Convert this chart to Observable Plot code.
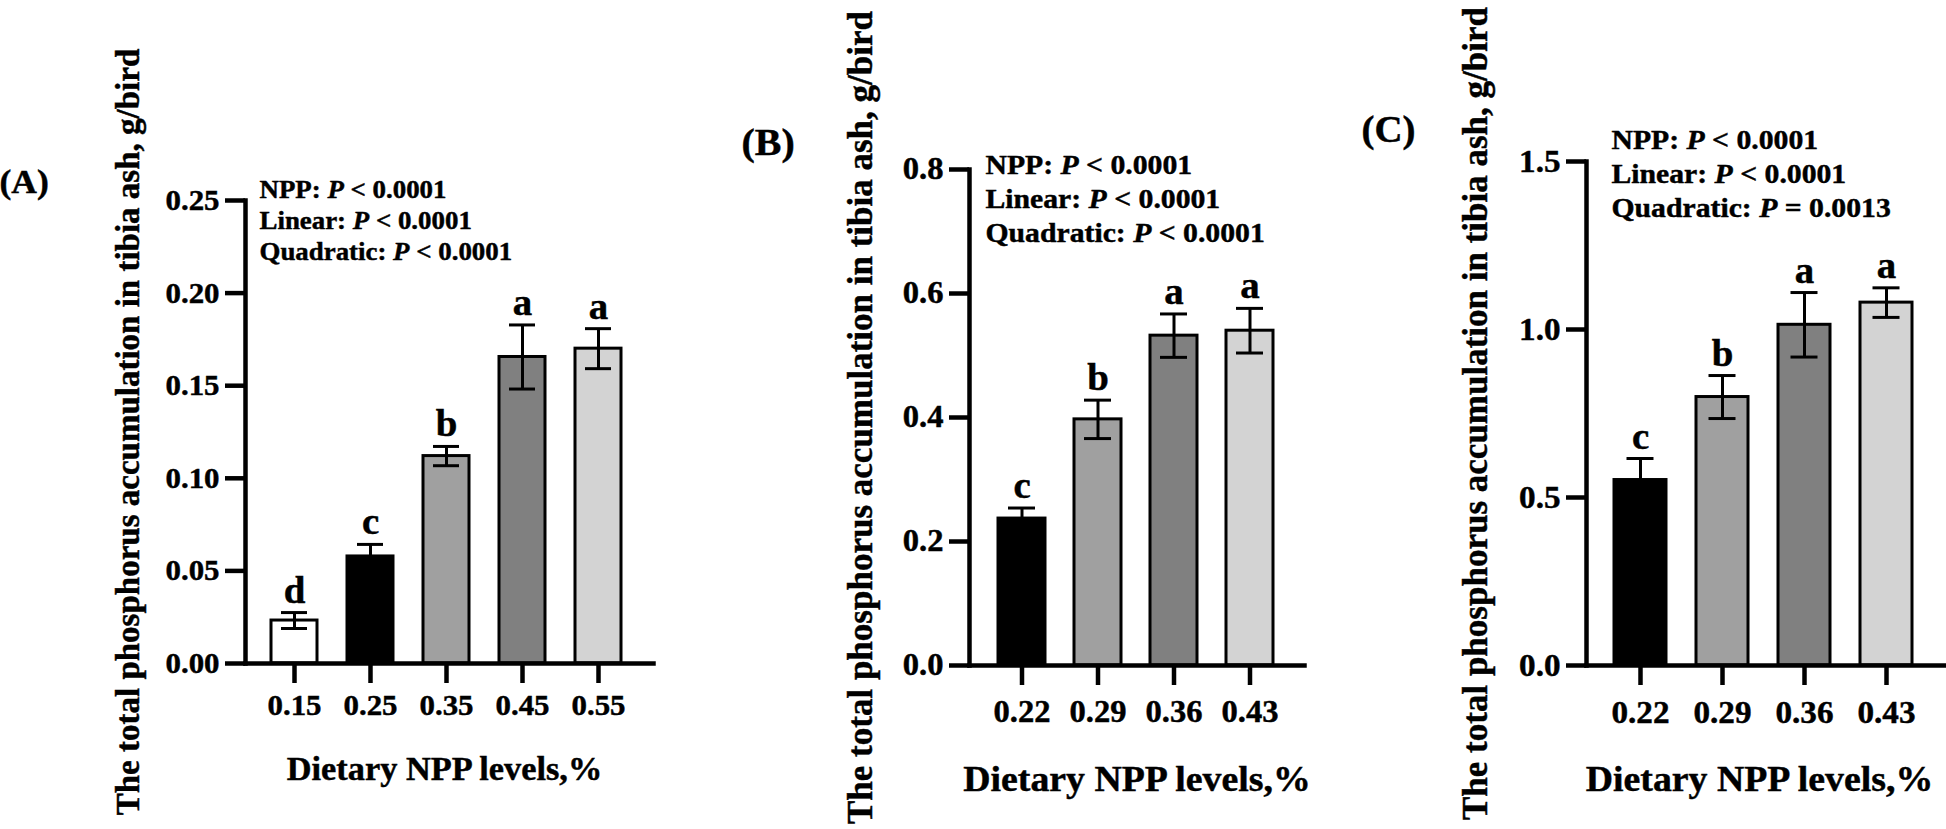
<!DOCTYPE html>
<html><head><meta charset="utf-8">
<script src="https://cdn.jsdelivr.net/npm/d3@7"></script>
<script src="https://cdn.jsdelivr.net/npm/@observablehq/plot@0.6"></script>
<style>
html,body{margin:0;padding:0;background:#fff;}
#root{position:relative;width:1946px;height:829px;overflow:hidden;background:#fff;}
.panel{position:absolute;top:0;}
#root svg text{stroke:#000;stroke-width:0.45px;}
</style></head><body><div id="root"></div>
<script>
// ---- Data ----
const levelsA = ["0.15", "0.25", "0.35", "0.45", "0.55"];
const meanA = [0.0232, 0.0578, 0.1120, 0.1655, 0.1700];
const sdA = [0.0043, 0.0065, 0.0052, 0.0173, 0.0108];
const lettersA = ["d", "c", "b", "a", "a"];
const fillsA = ["#ffffff", "#000000", "#a0a0a0", "#808080", "#d3d3d3"];
const yTicksA = [0, 0.05, 0.10, 0.15, 0.20, 0.25];

const levelsB = ["0.22", "0.29", "0.36", "0.43"];
const meanB = [0.237, 0.397, 0.532, 0.540];
const sdB = [0.017, 0.031, 0.035, 0.036];
const lettersB = ["c", "b", "a", "a"];
const fillsB = ["#000000", "#a0a0a0", "#808080", "#d3d3d3"];
const yTicksB = [0, 0.2, 0.4, 0.6, 0.8];

const levelsC = ["0.22", "0.29", "0.36", "0.43"];
const meanC = [0.552, 0.799, 1.014, 1.080];
const sdC = [0.064, 0.064, 0.096, 0.044];
const lettersC = ["c", "b", "a", "a"];
const fillsC = ["#000000", "#a0a0a0", "#808080", "#d3d3d3"];
const yTicksC = [0, 0.5, 1.0, 1.5];

const yTitle = "The total phosphorus accumulation in tibia ash, g/bird";
const xTitle = "Dietary NPP levels,%";
const notesA = ["NPP: P < 0.0001", "Linear: P < 0.0001", "Quadratic: P < 0.0001"];
const notesB = ["NPP: P < 0.0001", "Linear: P < 0.0001", "Quadratic: P < 0.0001"];
const notesC = ["NPP: P < 0.0001", "Linear: P < 0.0001", "Quadratic: P = 0.0013"];

const FONT = '"Liberation Serif","Times New Roman",serif';
const STRETCH = 1.05;
const SVGNS = "http://www.w3.org/2000/svg";
const root = document.getElementById("root");

function panel(cfg) {
  const data = cfg.levels.map((lv, i) => ({
    level: lv, mean: cfg.mean[i], lo: cfg.mean[i] - cfg.sd[i], hi: cfg.mean[i] + cfg.sd[i], letter: cfg.letters[i]
  }));
  const svg = Plot.plot({
    width: cfg.width, height: 829,
    marginLeft: cfg.ml, marginRight: cfg.mr, marginTop: cfg.mt, marginBottom: cfg.mb,
    x: {domain: cfg.levels, paddingInner: cfg.pi, paddingOuter: cfg.po, align: cfg.align},
    y: {domain: [cfg.yTicks[0], cfg.yTicks[cfg.yTicks.length - 1]]},
    color: {domain: cfg.levels, range: cfg.fills},
    style: {fontFamily: FONT, fontWeight: "bold", background: "transparent", overflow: "visible", color: "black"},
    marks: [
      Plot.barY(data, {x: "level", y: "mean", fill: "level", stroke: "black", strokeWidth: 3}),
      Plot.ruleX(data, {x: "level", y1: "lo", y2: "hi", stroke: "black", strokeWidth: 3}),
      Plot.tickY(data, {x: "level", y: "hi", stroke: "black", strokeWidth: 3, insetLeft: cfg.cap, insetRight: cfg.cap}),
      Plot.tickY(data, {x: "level", y: "lo", stroke: "black", strokeWidth: 3, insetLeft: cfg.cap, insetRight: cfg.cap}),
      Plot.text(data, {x: "level", y: "hi", text: "letter", dy: -10, lineAnchor: "bottom", fontSize: cfg.letterSize, fill: "black"}),
      Plot.frame({anchor: "left", stroke: "black", strokeWidth: 4.5, strokeLinecap: "square"}),
      Plot.frame({anchor: "bottom", stroke: "black", strokeWidth: 4.5, strokeLinecap: "square"}),
      Plot.axisY({ticks: cfg.yTicks, tickFormat: d3.format(cfg.fmt), tickSize: 20, tickPadding: 6, fontSize: cfg.tickFont, strokeWidth: 4.5, label: null}),
      Plot.axisX({tickSize: 20, tickPadding: cfg.xPad, fontSize: cfg.tickFont, strokeWidth: 4.5, label: null}),
      Plot.text([yTitle], {text: d => d, frameAnchor: "left", textAnchor: "middle", rotate: -90, lineAnchor: "top", dx: cfg.yTitleDx, fontSize: cfg.yTitleSize, fill: "black"}),
      Plot.text([xTitle], {text: d => d, frameAnchor: "bottom", textAnchor: "middle", lineAnchor: "top", dy: cfg.xTitleDy, dx: cfg.xTitleDx, fontSize: cfg.xTitleSize, fill: "black"}),
      Plot.text([cfg.tag], {text: d => d, frameAnchor: "top-left", textAnchor: "start", lineAnchor: "bottom", dx: cfg.tagDx, dy: cfg.tagDy, fontSize: cfg.tagSize, fill: "black"}),
      Plot.text([cfg.notes.join("\n")], {text: d => d, frameAnchor: "top-left", textAnchor: "start", lineAnchor: "top", lineHeight: cfg.noteLH, dx: cfg.noteDx, dy: cfg.noteDy, fontSize: cfg.noteSize, fill: "black"})
    ]
  });
  // italic "P" inside the statistics lines
  d3.select(svg).selectAll("text, tspan").each(function () {
    if (this.childElementCount) return;
    const s = this.textContent;
    const m = s.match(/^(.*?: )P( [<=] .*)$/);
    if (!m) return;
    this.textContent = "";
    this.appendChild(document.createTextNode(m[1]));
    const it = document.createElementNS(SVGNS, "tspan");
    it.setAttribute("font-style", "italic");
    it.textContent = "P";
    this.appendChild(it);
    this.appendChild(document.createTextNode(m[2]));
  });
  // slight horizontal stretch of non-rotated text, as in the reference
  d3.select(svg).selectAll("text").each(function () {
    const t = this.getAttribute("transform") || "";
    if (!/rotate/.test(t)) this.setAttribute("transform", (t + " scale(" + STRETCH + ",1)").trim());
  });
  const div = document.createElement("div");
  div.className = "panel";
  div.style.left = cfg.left + "px";
  div.appendChild(svg);
  root.appendChild(div);
}

panel({
  left: 0, width: 660, ml: 245, mr: 7, mt: 200, mb: 166,
  levels: levelsA, mean: meanA, sd: sdA, letters: lettersA, fills: fillsA, yTicks: yTicksA, fmt: ".2f",
  pi: 0.397, po: 0.374, align: 0.45, cap: 10,
  letterSize: 37, tickFont: 29.4, xPad: 11,
  yTitleDx: -130, yTitleSize: 33, xTitleDy: 93, xTitleDx: -5, xTitleSize: 32.7,
  tag: "(A)", tagDx: -246, tagDy: -8, tagSize: 33.8,
  notes: notesA, noteDx: 14, noteDy: -24.2, noteSize: 25.6, noteLH: 1.21
});
panel({
  left: 660, width: 650, ml: 309, mr: 6, mt: 169, mb: 164,
  levels: levelsB, mean: meanB, sd: sdB, letters: lettersB, fills: fillsB, yTicks: yTicksB, fmt: ".1f",
  pi: 0.384, po: 0.387, align: 0.48, cap: 10,
  letterSize: 37, tickFont: 31, xPad: 14,
  yTitleDx: -122, yTitleSize: 35, xTitleDy: 99.5, xTitleDx: 0, xTitleSize: 36,
  tag: "(B)", tagDx: -228, tagDy: -15, tagSize: 38,
  notes: notesB, noteDx: 16, noteDy: -19.2, noteSize: 28.3, noteLH: 1.2
});
panel({
  left: 1310, width: 636, ml: 276, mr: 2, mt: 161, mb: 164,
  levels: levelsC, mean: meanC, sd: sdC, letters: lettersC, fills: fillsC, yTicks: yTicksC, fmt: ".1f",
  pi: 0.371, po: 0.35, align: 0.47, cap: 12.5,
  letterSize: 37, tickFont: 31.6, xPad: 15,
  yTitleDx: -124, yTitleSize: 35, xTitleDy: 99.5, xTitleDx: -6, xTitleSize: 36,
  tag: "(C)", tagDx: -225, tagDy: -19.5, tagSize: 37,
  notes: notesC, noteDx: 25, noteDy: -36.2, noteSize: 28.3, noteLH: 1.2
});
</script></body></html>
